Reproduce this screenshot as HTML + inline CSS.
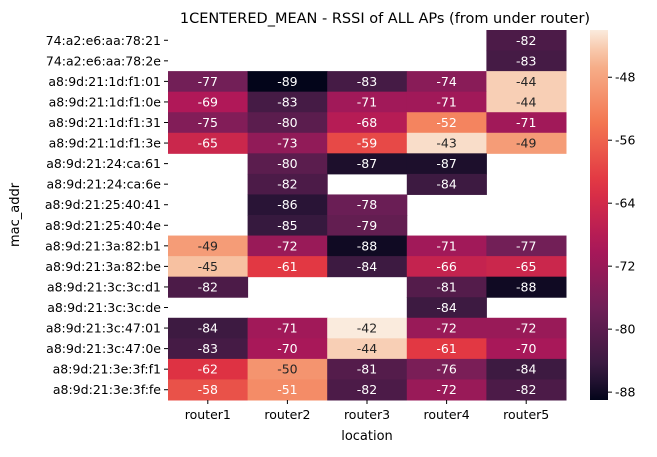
<!DOCTYPE html>
<html><head><meta charset="utf-8"><style>
body{margin:0;background:#fff;font-family:"DejaVu Sans","Liberation Sans",sans-serif;}
svg text{font-family:"DejaVu Sans","Liberation Sans",sans-serif;}
</style></head><body>
<svg id="chart" width="657" height="453" xmlns="http://www.w3.org/2000/svg">
<text x="385" y="23" font-size="14.5" text-anchor="middle">1CENTERED_MEAN - RSSI of ALL APs (from under router)</text>
<g id="cells"></g>
<g id="yaxis"></g>
<g id="xaxis"></g>
<text x="19" y="215" font-size="13" text-anchor="middle" transform="rotate(-90 19 215)">mac_addr</text>
<text x="367" y="440" font-size="13" text-anchor="middle">location</text>
<defs><linearGradient id="rk" x1="0" y1="1" x2="0" y2="0"></linearGradient></defs>
<rect x="590" y="30" width="18" height="370" fill="url(#rk)"/>
<g id="cbticks"></g>
</svg>
<script>
const rows=["74:a2:e6:aa:78:21","74:a2:e6:aa:78:2e","a8:9d:21:1d:f1:01","a8:9d:21:1d:f1:0e","a8:9d:21:1d:f1:31","a8:9d:21:1d:f1:3e","a8:9d:21:24:ca:61","a8:9d:21:24:ca:6e","a8:9d:21:25:40:41","a8:9d:21:25:40:4e","a8:9d:21:3a:82:b1","a8:9d:21:3a:82:be","a8:9d:21:3c:3c:d1","a8:9d:21:3c:3c:de","a8:9d:21:3c:47:01","a8:9d:21:3c:47:0e","a8:9d:21:3e:3f:f1","a8:9d:21:3e:3f:fe"];
const cols=["router1","router2","router3","router4","router5"];
const values=[
[null,null,null,null,-82],[null,null,null,null,-83],
[-77,-89,-83,-74,-44],[-69,-83,-71,-71,-44],[-75,-80,-68,-52,-71],[-65,-73,-59,-43,-49],
[null,-80,-87,-87,null],[null,-82,null,-84,null],[null,-86,-78,null,null],[null,-85,-79,null,null],
[-49,-72,-88,-71,-77],[-45,-61,-84,-66,-65],[-82,null,null,-81,-88],[null,null,null,-84,null],
[-84,-71,-42,-72,-72],[-83,-70,-44,-61,-70],[-62,-50,-81,-76,-84],[-58,-51,-82,-72,-82]];
const cbTicks=[-48,-56,-64,-72,-80,-88];
const vmin=-89,vmax=-42;
const X0=168,X1=566,Y0=30,Y1=400;
const cw=(X1-X0)/cols.length,rh=(Y1-Y0)/rows.length;
const stops=[[0,[3,5,26]],[1/12,[0x35,0x19,0x3e]],[3/12,[0x70,0x1f,0x57]],[5/12,[0xad,0x17,0x59]],[7/12,[0xe1,0x33,0x42]],[9/12,[0xf3,0x76,0x51]],[11/12,[0xf6,0xb4,0x8f]],[1,[0xfa,0xeb,0xdd]]];
function cmap(t){t=Math.max(0,Math.min(1,t));for(let i=1;i<stops.length;i++){if(t<=stops[i][0]){const a=stops[i-1],b=stops[i],f=(t-a[0])/(b[0]-a[0]);return a[1].map((v,k)=>Math.round(v+(b[1][k]-v)*f));}}return stops[stops.length-1][1];}
function lum(c){const l=c.map(v=>{v/=255;return v<=0.03928?v/12.92:Math.pow((v+0.055)/1.055,2.4)});return 0.2126*l[0]+0.7152*l[1]+0.0722*l[2];}
const NS="http://www.w3.org/2000/svg";
function mk(t,a,p){const e=document.createElementNS(NS,t);for(const k in a)e.setAttribute(k,a[k]);p.appendChild(e);return e;}
const cells=document.getElementById('cells');
values.forEach((r,i)=>r.forEach((v,j)=>{if(v===null)return;const c=cmap((v-vmin)/(vmax-vmin));
const rc=mk('rect',{x:X0+j*cw,y:Y0+i*rh,width:cw+0.5,height:rh+0.5,fill:`rgb(${c})`},cells);


const tx=mk('text',{x:X0+(j+.5)*cw,y:Y0+(i+.5)*rh+4.5,'font-size':12.5,'text-anchor':'middle',fill:lum(c)>0.408?'#262626':'#fff'},cells);
tx.textContent=v;

}));
const ya=document.getElementById('yaxis');
rows.forEach((r,i)=>{const y=Y0+(i+.5)*rh;mk('line',{x1:X0-4,x2:X0,y1:y,y2:y,stroke:'#000'},ya);
const t=mk('text',{x:X0-7,y:y+4.5,'font-size':12.5,'text-anchor':'end'},ya);t.textContent=r;

});
const xa=document.getElementById('xaxis');
cols.forEach((c,j)=>{const x=X0+(j+.5)*cw;mk('line',{x1:x,x2:x,y1:Y1,y2:Y1+4,stroke:'#000'},xa);
const t=mk('text',{x:x,y:Y1+19,'font-size':12.5,'text-anchor':'middle'},xa);t.textContent=c;

});
const g=document.getElementById('rk');
for(let k=0;k<=20;k++){const c=cmap(k/20);mk('stop',{offset:k/20,'stop-color':`rgb(${c})`},g);}
const cb=document.getElementById('cbticks');
cbTicks.forEach(v=>{const y=Y1-(v-vmin)/(vmax-vmin)*(Y1-Y0);mk('line',{x1:608,x2:612,y1:y,y2:y,stroke:'#000'},cb);
const t=mk('text',{x:615,y:y+4.5,'font-size':12.5},cb);t.textContent=v;

});
</script>
</body></html>
